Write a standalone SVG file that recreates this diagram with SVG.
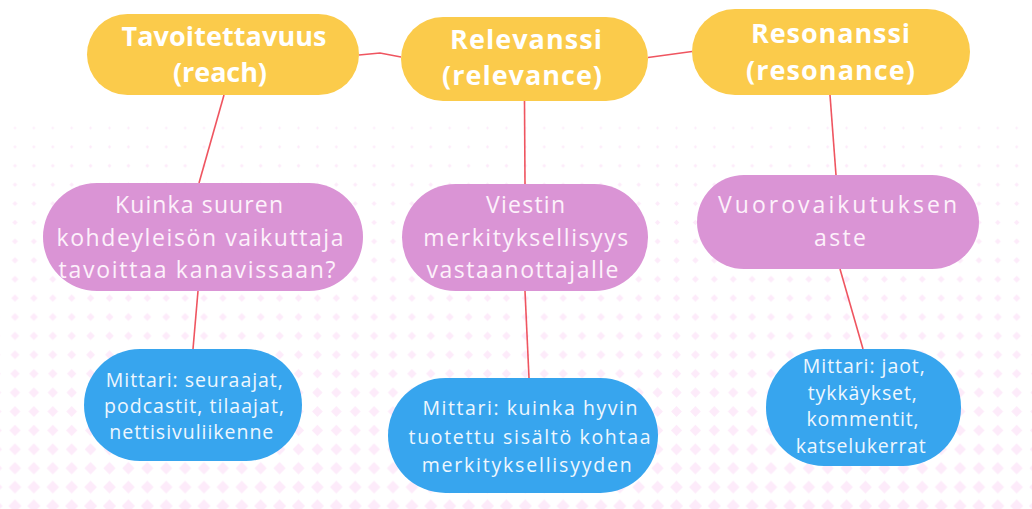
<svg xmlns="http://www.w3.org/2000/svg" width="1032" height="509" viewBox="0 0 1032 509">
<style>
.conn line,.conn polyline{stroke:#ef5560;stroke-width:1.6;fill:none}
.y rect{fill:#fbcb4b}
.p rect{fill:#da94d5}
.b rect{fill:#37a5ee}
text{font-family:"Open Sans","Liberation Sans",sans-serif;text-anchor:middle}
.y text{font-size:27px;font-weight:700;fill:#fff}
.p text{font-size:23px;fill:#fdf1fb}
.b text{font-size:19.5px;fill:#eef7fe}
.dot{fill:#fdebfa}
</style>
<defs>
<pattern id="p0" width="18.9" height="18.9" patternUnits="userSpaceOnUse" x="5.55" y="118.55"><path class="dot" d="M9.45 7.95L10.95 9.45L9.45 10.95L7.95 9.45Z"/></pattern>
<pattern id="p1" width="18.9" height="18.9" patternUnits="userSpaceOnUse" x="5.55" y="137.45"><path class="dot" d="M9.45 7.7L11.2 9.45L9.45 11.2L7.7 9.45Z"/></pattern>
<pattern id="p2" width="18.9" height="18.9" patternUnits="userSpaceOnUse" x="5.55" y="156.35"><path class="dot" d="M9.45 7.45L11.45 9.45L9.45 11.45L7.45 9.45Z"/></pattern>
<pattern id="p3" width="18.9" height="18.9" patternUnits="userSpaceOnUse" x="5.55" y="175.25"><path class="dot" d="M9.45 7.2L11.7 9.45L9.45 11.7L7.2 9.45Z"/></pattern>
<pattern id="p4" width="18.9" height="18.9" patternUnits="userSpaceOnUse" x="5.55" y="194.15"><path class="dot" d="M9.45 6.95L11.95 9.45L9.45 11.95L6.95 9.45Z"/></pattern>
<pattern id="p5" width="18.9" height="18.9" patternUnits="userSpaceOnUse" x="5.55" y="213.05"><path class="dot" d="M9.45 6.7L12.2 9.45L9.45 12.2L6.7 9.45Z"/></pattern>
<pattern id="p6" width="18.9" height="18.9" patternUnits="userSpaceOnUse" x="5.55" y="231.95"><path class="dot" d="M9.45 6.45L12.45 9.45L9.45 12.45L6.45 9.45Z"/></pattern>
<pattern id="p7" width="18.9" height="18.9" patternUnits="userSpaceOnUse" x="5.55" y="250.85"><path class="dot" d="M9.45 6.2L12.7 9.45L9.45 12.7L6.2 9.45Z"/></pattern>
<pattern id="p8" width="18.9" height="18.9" patternUnits="userSpaceOnUse" x="5.55" y="269.75"><path class="dot" d="M9.45 5.95L12.95 9.45L9.45 12.95L5.95 9.45Z"/></pattern>
<pattern id="p9" width="18.9" height="18.9" patternUnits="userSpaceOnUse" x="5.55" y="288.65"><path class="dot" d="M9.45 5.7L13.2 9.45L9.45 13.2L5.7 9.45Z"/></pattern>
<pattern id="p10" width="18.9" height="18.9" patternUnits="userSpaceOnUse" x="5.55" y="307.55"><path class="dot" d="M9.45 5.45L13.45 9.45L9.45 13.45L5.45 9.45Z"/></pattern>
<pattern id="p11" width="18.9" height="18.9" patternUnits="userSpaceOnUse" x="5.55" y="326.45"><path class="dot" d="M9.45 5.2L13.7 9.45L9.45 13.7L5.2 9.45Z"/></pattern>
<pattern id="p12" width="18.9" height="18.9" patternUnits="userSpaceOnUse" x="5.55" y="345.35"><path class="dot" d="M9.45 4.95L13.95 9.45L9.45 13.95L4.95 9.45Z"/></pattern>
<pattern id="p13" width="18.9" height="18.9" patternUnits="userSpaceOnUse" x="5.55" y="364.25"><path class="dot" d="M9.45 4.7L14.2 9.45L9.45 14.2L4.7 9.45Z"/></pattern>
<pattern id="p14" width="18.9" height="18.9" patternUnits="userSpaceOnUse" x="5.55" y="383.15"><path class="dot" d="M9.45 4.35L14.55 9.45L9.45 14.55L4.35 9.45Z"/></pattern>
<pattern id="p15" width="18.9" height="18.9" patternUnits="userSpaceOnUse" x="5.55" y="402.05"><path class="dot" d="M9.45 4.1L14.8 9.45L9.45 14.8L4.1 9.45Z"/></pattern>
<pattern id="p16" width="18.9" height="18.9" patternUnits="userSpaceOnUse" x="5.55" y="420.95"><path class="dot" d="M9.45 3.85L15.05 9.45L9.45 15.05L3.85 9.45Z"/></pattern>
<pattern id="p17" width="18.9" height="18.9" patternUnits="userSpaceOnUse" x="5.55" y="439.85"><path class="dot" d="M9.45 3.6L15.3 9.45L9.45 15.3L3.6 9.45Z"/></pattern>
<pattern id="p18" width="18.9" height="18.9" patternUnits="userSpaceOnUse" x="5.55" y="458.75"><path class="dot" d="M9.45 3.35L15.55 9.45L9.45 15.55L3.35 9.45Z"/></pattern>
<pattern id="p19" width="18.9" height="18.9" patternUnits="userSpaceOnUse" x="5.55" y="477.65"><path class="dot" d="M9.45 3.1L15.8 9.45L9.45 15.8L3.1 9.45Z"/></pattern>
<pattern id="p20" width="18.9" height="18.9" patternUnits="userSpaceOnUse" x="5.55" y="496.55"><path class="dot" d="M9.45 2.85L16.05 9.45L9.45 16.05L2.85 9.45Z"/></pattern>
</defs>
<rect width="1032" height="509" fill="#fff"/>
<g id="background">
<rect x="0" y="118.55" width="1032" height="18.9" fill="url(#p0)"/>
<rect x="0" y="137.45" width="1032" height="18.9" fill="url(#p1)"/>
<rect x="0" y="156.35" width="1032" height="18.9" fill="url(#p2)"/>
<rect x="0" y="175.25" width="1032" height="18.9" fill="url(#p3)"/>
<rect x="0" y="194.15" width="1032" height="18.9" fill="url(#p4)"/>
<rect x="0" y="213.05" width="1032" height="18.9" fill="url(#p5)"/>
<rect x="0" y="231.95" width="1032" height="18.9" fill="url(#p6)"/>
<rect x="0" y="250.85" width="1032" height="18.9" fill="url(#p7)"/>
<rect x="0" y="269.75" width="1032" height="18.9" fill="url(#p8)"/>
<rect x="0" y="288.65" width="1032" height="18.9" fill="url(#p9)"/>
<rect x="0" y="307.55" width="1032" height="18.9" fill="url(#p10)"/>
<rect x="0" y="326.45" width="1032" height="18.9" fill="url(#p11)"/>
<rect x="0" y="345.35" width="1032" height="18.9" fill="url(#p12)"/>
<rect x="0" y="364.25" width="1032" height="18.9" fill="url(#p13)"/>
<rect x="0" y="383.15" width="1032" height="18.9" fill="url(#p14)"/>
<rect x="0" y="402.05" width="1032" height="18.9" fill="url(#p15)"/>
<rect x="0" y="420.95" width="1032" height="18.9" fill="url(#p16)"/>
<rect x="0" y="439.85" width="1032" height="18.9" fill="url(#p17)"/>
<rect x="0" y="458.75" width="1032" height="18.9" fill="url(#p18)"/>
<rect x="0" y="477.65" width="1032" height="18.9" fill="url(#p19)"/>
<rect x="0" y="496.55" width="1032" height="12.45" fill="url(#p20)"/>
</g>
<g class="conn" id="connectors">
<polyline points="359,55 380,53 401,57"/>
<line x1="648" y1="57.5" x2="692" y2="51.5"/>
<line x1="224" y1="95" x2="199" y2="183"/>
<line x1="198" y1="291" x2="193" y2="349"/>
<line x1="524.5" y1="101" x2="525" y2="184"/>
<line x1="525" y1="291" x2="529" y2="378"/>
<line x1="830" y1="95" x2="836" y2="175"/>
<line x1="840" y1="269" x2="863" y2="349"/>
</g>
<g id="reach" class="y">
<rect x="87" y="14" width="272" height="81" rx="40.5"/>
<text x="224" y="46" textLength="205" lengthAdjust="spacing">Tavoitettavuus</text>
<text x="220" y="82" textLength="94" lengthAdjust="spacing">(reach)</text>
</g>
<g id="relevance" class="y">
<rect x="401" y="17" width="247" height="84" rx="42"/>
<text x="526" y="49" textLength="152" lengthAdjust="spacing">Relevanssi</text>
<text x="522" y="85" textLength="160" lengthAdjust="spacing">(relevance)</text>
</g>
<g id="resonance" class="y">
<rect x="692" y="9" width="278" height="86" rx="43"/>
<text x="830.5" y="43" textLength="159" lengthAdjust="spacing">Resonanssi</text>
<text x="830.5" y="80" textLength="169" lengthAdjust="spacing">(resonance)</text>
</g>
<g id="reach-desc" class="p">
<rect x="43" y="183" width="320" height="108" rx="54"/>
<text x="199" y="213" textLength="168" lengthAdjust="spacing">Kuinka suuren</text>
<text x="200" y="245.5" textLength="287" lengthAdjust="spacing">kohdeyleisön vaikuttaja</text>
<text x="197" y="278" textLength="277" lengthAdjust="spacing">tavoittaa kanavissaan?</text>
</g>
<g id="relevance-desc" class="p">
<rect x="402" y="184" width="246" height="107" rx="53.5"/>
<text x="525.5" y="213.3" textLength="79" lengthAdjust="spacing">Viestin</text>
<text x="525.8" y="245.7" textLength="205" lengthAdjust="spacing">merkityksellisyys</text>
<text x="522.5" y="278" textLength="192" lengthAdjust="spacing">vastaanottajalle</text>
</g>
<g id="resonance-desc" class="p">
<rect x="697" y="175" width="282" height="94" rx="47"/>
<text x="837.5" y="213.3" textLength="239" lengthAdjust="spacing">Vuorovaikutuksen</text>
<text x="840" y="246" textLength="52" lengthAdjust="spacing">aste</text>
</g>
<g id="reach-metric" class="b">
<rect x="84" y="349" width="218" height="112" rx="56"/>
<text x="194.3" y="386.7" textLength="177" lengthAdjust="spacing">Mittari: seuraajat,</text>
<text x="194" y="412.7" textLength="180" lengthAdjust="spacing">podcastit, tilaajat,</text>
<text x="191.3" y="439.3" textLength="164" lengthAdjust="spacing">nettisivuliikenne</text>
</g>
<g id="relevance-metric" class="b">
<rect x="388" y="378" width="270" height="115" rx="57.5"/>
<text x="530" y="415" textLength="215" lengthAdjust="spacing">Mittari: kuinka hyvin</text>
<text x="529.5" y="444" textLength="242" lengthAdjust="spacing">tuotettu sisältö kohtaa</text>
<text x="526.7" y="471.7" textLength="210" lengthAdjust="spacing">merkityksellisyyden</text>
</g>
<g id="resonance-metric" class="b">
<rect x="766" y="349" width="195" height="117" rx="58"/>
<text x="863.8" y="373.3" textLength="122" lengthAdjust="spacing">Mittari: jaot,</text>
<text x="862.3" y="400" textLength="109" lengthAdjust="spacing">tykkäykset,</text>
<text x="862.5" y="426" textLength="112" lengthAdjust="spacing">kommentit,</text>
<text x="860.8" y="452.7" textLength="130" lengthAdjust="spacing">katselukerrat</text>
</g>
</svg>
